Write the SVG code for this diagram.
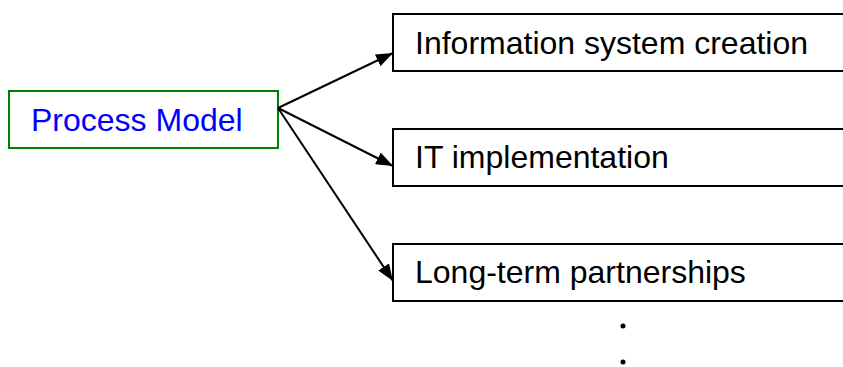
<svg xmlns="http://www.w3.org/2000/svg" width="843" height="367" viewBox="0 0 843 367">
  <style>
    .box { fill: #ffffff; stroke: #000000; stroke-width: 2; }
    .src { fill: #ffffff; stroke: #008000; stroke-width: 2; }
    .label { font-family: "Liberation Sans", Arial, sans-serif; font-size: 32px; fill: #000000; }
    .src-label { fill: #0000ff; }
    .edge { stroke: #000000; stroke-width: 2; fill: none; marker-end: url(#arrow); }
  </style>
  <defs>
    <marker id="arrow" markerWidth="17" markerHeight="13" refX="17" refY="6.5" orient="auto" markerUnits="userSpaceOnUse">
      <path d="M0,0 L17,6.5 L0,13 Z" fill="#000000"/>
    </marker>
  </defs>
  <rect width="843" height="367" fill="#ffffff"/>

  <g id="process-model">
    <rect class="src" x="9" y="91" width="269" height="57"/>
    <text class="label src-label" x="31" y="131">Process Model</text>
  </g>

  <g id="information-system-creation">
    <rect class="box" x="393" y="14" width="470" height="57"/>
    <text class="label" x="415" y="54">Information system creation</text>
  </g>

  <g id="it-implementation">
    <rect class="box" x="393" y="129" width="470" height="57"/>
    <text class="label" x="415" y="168">IT implementation</text>
  </g>

  <g id="long-term-partnerships">
    <rect class="box" x="393" y="244" width="470" height="57"/>
    <text class="label" x="415" y="283">Long-term partnerships</text>
  </g>

  <g id="connectors">
    <line class="edge" x1="278" y1="108" x2="393" y2="53"/>
    <line class="edge" x1="278" y1="108" x2="393" y2="166"/>
    <line class="edge" x1="278" y1="108" x2="393" y2="281"/>
  </g>

  <g id="ellipsis" fill="#000000">
    <circle cx="623" cy="326" r="2.5"/>
    <circle cx="623" cy="362" r="2.5"/>
  </g>
</svg>
